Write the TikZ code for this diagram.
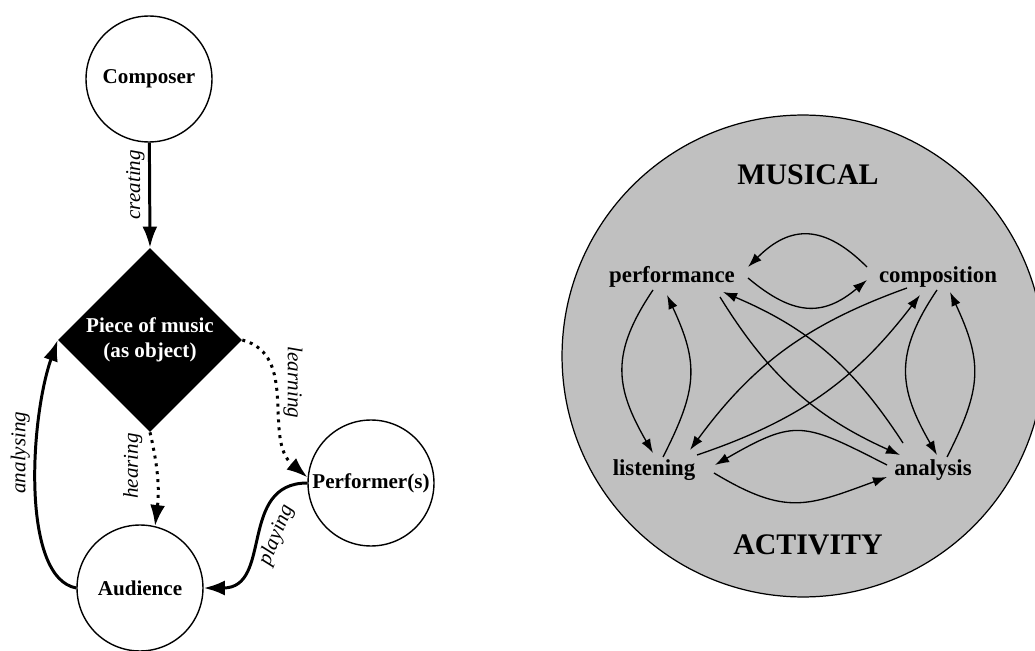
\documentclass[tikz,border=0pt]{standalone}
\usepackage{fontspec}
\setmainfont{Liberation Serif}
\usetikzlibrary{shapes.geometric,arrows.meta}
\definecolor{silver}{RGB}{192,192,192}
\begin{document}
\begin{tikzpicture}[x=0.02cm,y=0.02cm]

	\tikzstyle{person}=[circle,draw=black,line width=0.8pt,fill=white,
		minimum size=2.52cm,inner sep=0pt,
		font=\fontsize{12}{14}\selectfont\bfseries]
	\tikzstyle{piece}=[diamond,fill=black,text=white,
		minimum width=3.68cm,minimum height=3.68cm,inner sep=0pt,
		align=center,font=\fontsize{12}{14}\selectfont\bfseries]
	\tikzstyle{flow}=[line width=1.7pt,-{Latex[length=12pt,width=8.5pt]}]
	\tikzstyle{dotflow}=[flow,dash pattern=on 1.7pt off 2.8pt]
	\tikzstyle{verb}=[font=\fontsize{12}{14}\selectfont\itshape,inner sep=3pt]
	\tikzstyle{field}=[circle,draw=black,line width=0.7pt,fill=silver,
		minimum size=9.64cm,inner sep=0pt]
	\tikzstyle{activity}=[font=\fontsize{13}{15}\selectfont\bfseries,
		inner sep=0pt,anchor=base]
	\tikzstyle{title}=[font=\fontsize{17}{19}\selectfont\bfseries]
	\tikzstyle{link}=[line width=0.75pt,-{Latex[length=8pt,width=5.5pt]}]

	\useasboundingbox (0,0) rectangle (1035,650);

	% roles round the piece
	\node[person]	(composer)	at (149,571)	{Composer};
	\node[piece]	(piece)		at (150,310)	{Piece of music\\(as object)};
	\node[person]	(performer)	at (371,167)	{Performer(s)};
	\node[person]	(audience)	at (140,62)	{Audience};

	\draw[flow] (composer) -- (piece.north)
		node[verb,inner sep=2pt,pos=0.4,rotate=90,anchor=south]{creating};
	\draw[dotflow] (piece.south) to[bend left=10]
		node[verb,inner sep=7pt,pos=0.35,rotate=90,anchor=south]{hearing} (audience);
	\draw[dotflow] (piece.east) to[out=-15,in=140]
		node[verb,pos=0.39,rotate=-90,anchor=south]{learning} (performer.175);
	\draw[flow] (performer.west) to[out=180,in=0,looseness=1.2]
		node[verb,inner sep=5pt,pos=0.45,rotate=68,anchor=north]{playing} (audience.east);
	\draw[flow] (audience.west) .. controls +(-55,10) and +(-28,-80) .. (piece.west)
		node[verb,pos=0.62,rotate=90,anchor=south]{analysing};

	% musical activity
	\node[field]	(circle)	at (803,294)	{};
	\node[title]	(musical)	at (808,475)	{MUSICAL};
	\node[title]	(activ)		at (808,105)	{ACTIVITY};

	\node[activity]	(perf)	at (672,367)	{performance};
	\node[activity]	(comp)	at (938,367)	{composition};
	\node[activity]	(list)	at (654,175)	{listening};
	\node[activity]	(anal)	at (933,175)	{analysis};

	\draw[link] ([shift={(-71,16)}]comp.base) to[out=135,in=45,looseness=1.3]
		([shift={(76,16)}]perf.base);
	\draw[link] ([shift={(76,5)}]perf.base) to[out=-40,in=-140,looseness=1.25]
		([shift={(-71,3)}]comp.base);
	\draw[link] ([shift={(-19,-7)}]perf.base) to[out=236,in=120,looseness=1.2]
		([shift={(-1,22)}]list.base);
	\draw[link] ([shift={(9,18)}]list.base) to[out=63,in=-65,looseness=1.2]
		([shift={(-5,-12)}]perf.base);
	\draw[link] ([shift={(-1,-7)}]comp.base) to[out=236,in=120,looseness=1.2]
		([shift={(4,20)}]anal.base);
	\draw[link] ([shift={(14,18)}]anal.base) to[out=63,in=-65,looseness=1.2]
		([shift={(12,-9)}]comp.base);
	\draw[link] ([shift={(-46,10)}]anal.base) to[out=153,in=30,looseness=1.4]
		([shift={(61,10)}]list.base);
	\draw[link] ([shift={(60,2)}]list.base) to[out=-31,in=200,looseness=1.25]
		([shift={(-46,-2)}]anal.base);
	\draw[link] ([shift={(48,-14)}]perf.base) to[bend right=17]
		([shift={(-33,20)}]anal.base);
	\draw[link] ([shift={(-30,32)}]anal.base) to[bend right=17]
		([shift={(51,-9)}]perf.base);
	\draw[link] ([shift={(-31,-5)}]comp.base) to[bend right=17]
		([shift={(36,25)}]list.base);
	\draw[link] ([shift={(43,20)}]list.base) to[bend right=17]
		([shift={(-18,-12)}]comp.base);

\end{tikzpicture}
\end{document}
